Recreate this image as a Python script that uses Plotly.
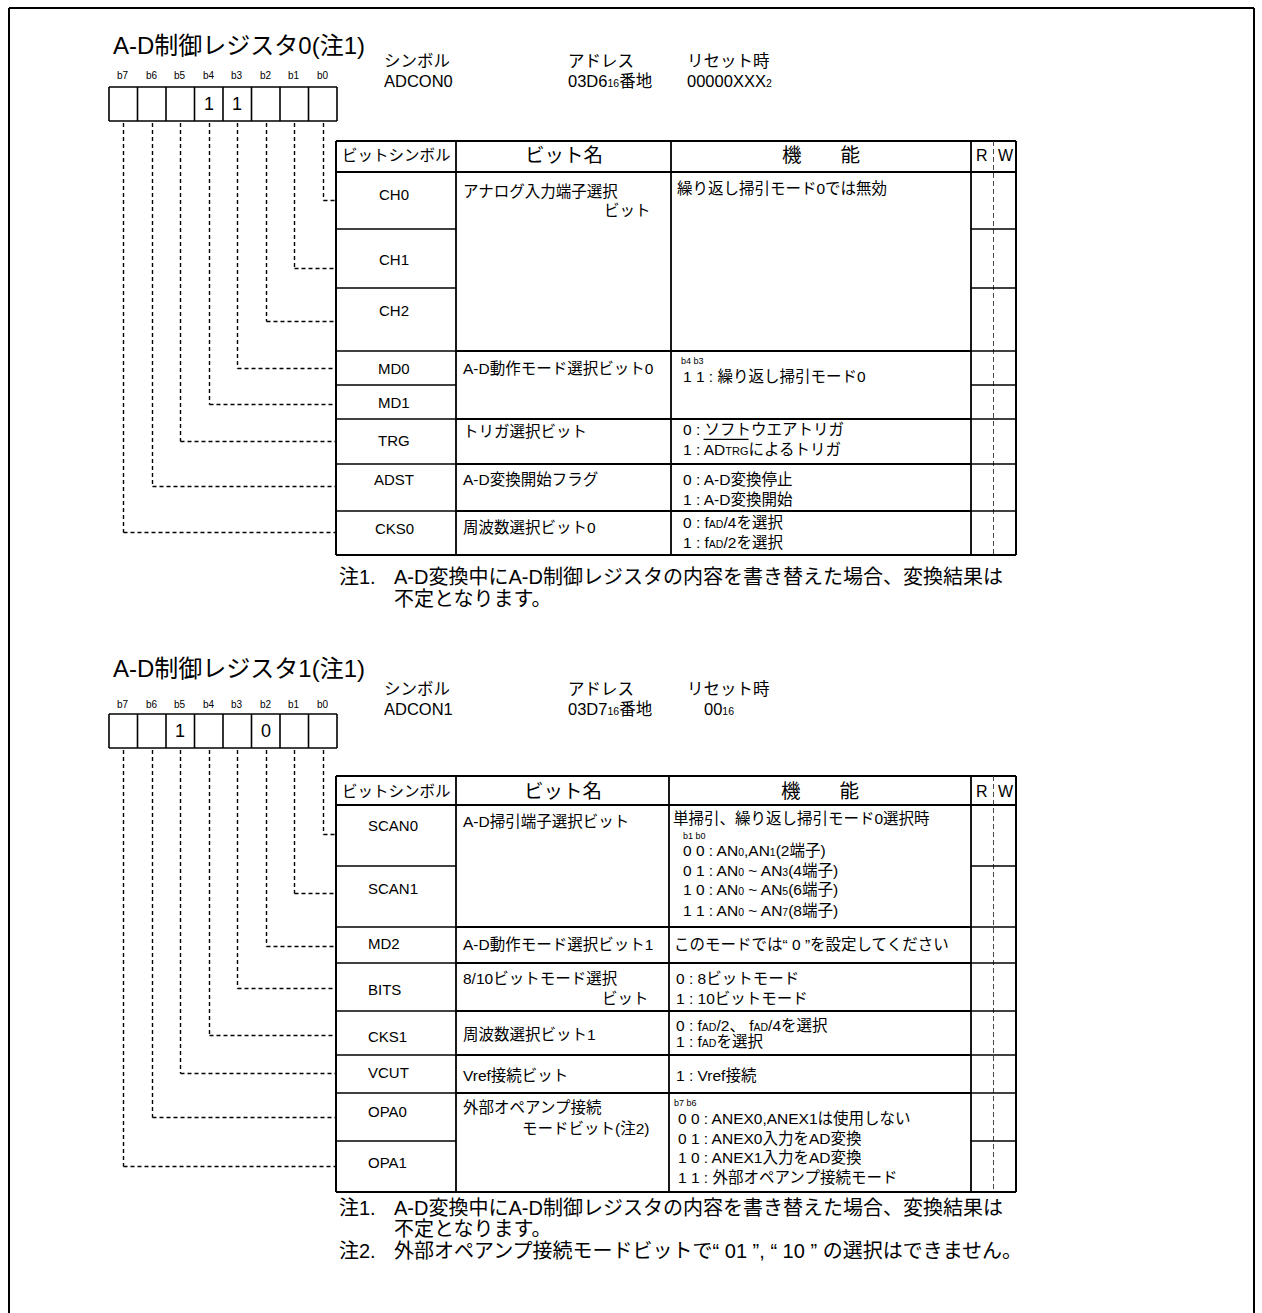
import plotly.graph_objects as go

# ---------------- data ----------------
bit_labels = ["b7", "b6", "b5", "b4", "b3", "b2", "b1", "b0"]
info_headers = ["シンボル", "アドレス", "リセット時"]
table_headers = ["ビットシンボル", "ビット名", "機　　能"]
rw_headers = ["R", "W"]


def SM(s, size=10.5):
    return '<span style="font-size:%spx">%s</span>' % (size, s)


reg0_title = "A-D制御レジスタ0(注1)"
reg0_info = ["ADCON0", "03D6" + SM("16", 10.5) + "番地", "00000XXX" + SM("2", 10.5)]
reg0_bit_values = ["", "", "", "1", "1", "", "", ""]                 # b7 .. b0
reg0_symbols = ["CH0", "CH1", "CH2", "MD0", "MD1", "TRG", "ADST", "CKS0"]  # b0 .. b7
reg0_group_bits = [[0, 1, 2], [3, 4], [5], [6], [7]]
reg0_names = [
    [("アナログ入力端子選択", "left"), ("ビット", "right")],
    [("A-D動作モード選択ビット0", "left")],
    [("トリガ選択ビット", "left")],
    [("A-D変換開始フラグ", "left")],
    [("周波数選択ビット0", "left")],
]
reg0_functions = [
    [("繰り返し掃引モード0では無効", "n")],
    [("b4 b3", "s"), ("1 1 : 繰り返し掃引モード0", "n")],
    [("0 : ソフトウエアトリガ", "n"), ("1 : AD" + SM("TRG", 11) + "によるトリガ", "n")],
    [("0 : A-D変換停止", "n"), ("1 : A-D変換開始", "n")],
    [("0 : f" + SM("AD") + "/4を選択", "n"), ("1 : f" + SM("AD") + "/2を選択", "n")],
]
reg0_notes = [("注1.", "A-D変換中にA-D制御レジスタの内容を書き替えた場合、変換結果は"),
              ("", "不定となります。")]

reg1_title = "A-D制御レジスタ1(注1)"
reg1_info = ["ADCON1", "03D7" + SM("16", 10.5) + "番地", "00" + SM("16", 10.5)]
reg1_bit_values = ["", "", "1", "", "", "0", "", ""]                 # b7 .. b0
reg1_symbols = ["SCAN0", "SCAN1", "MD2", "BITS", "CKS1", "VCUT", "OPA0", "OPA1"]  # b0 .. b7
reg1_group_bits = [[0, 1], [2], [3], [4], [5], [6, 7]]
reg1_names = [
    [("A-D掃引端子選択ビット", "left")],
    [("A-D動作モード選択ビット1", "left")],
    [("8/10ビットモード選択", "left"), ("ビット", "right")],
    [("周波数選択ビット1", "left")],
    [("Vref接続ビット", "left")],
    [("外部オペアンプ接続", "left"), ("モードビット(注2)", "right")],
]
reg1_functions = [
    [("単掃引、繰り返し掃引モード0選択時", "n"), ("b1 b0", "s"),
     ("0 0 : AN" + SM("0") + ",AN" + SM("1") + "(2端子)", "n"),
     ("0 1 : AN" + SM("0") + " ~ AN" + SM("3") + "(4端子)", "n"),
     ("1 0 : AN" + SM("0") + " ~ AN" + SM("5") + "(6端子)", "n"),
     ("1 1 : AN" + SM("0") + " ~ AN" + SM("7") + "(8端子)", "n")],
    [("このモードでは“ 0 ”を設定してください", "n")],
    [("0 : 8ビットモード", "n"), ("1 : 10ビットモード", "n")],
    [("0 : f" + SM("AD") + "/2、 f" + SM("AD") + "/4を選択", "n"), ("1 : f" + SM("AD") + "を選択", "n")],
    [("1 : Vref接続", "n")],
    [("b7 b6", "s"), ("0 0 : ANEX0,ANEX1は使用しない", "n"), ("0 1 : ANEX0入力をAD変換", "n"),
     ("1 0 : ANEX1入力をAD変換", "n"), ("1 1 : 外部オペアンプ接続モード", "n")],
]
reg1_notes = [("注1.", "A-D変換中にA-D制御レジスタの内容を書き替えた場合、変換結果は"),
              ("", "不定となります。"),
              ("注2.", "外部オペアンプ接続モードビットで“ 01 ”, “ 10 ” の選択はできません。")]

# ---------------- layout geometry ----------------
W, H = 1262, 1313
FONT = "Liberation Sans, Noto Sans CJK JP, sans-serif"

geo0 = dict(title_y=45, info_y=(60.5, 81), info_x=(383, 567, 686), info2_x=(383, 567, 686),
            bitlabel_y=75, box=(87, 121), table_top=141, header_y=155,
            row_edges=[172, 229, 288, 351, 385, 419, 464, 511, 555],
            connector_y=[200.5, 268.5, 321.5, 368.5, 404.5, 441.5, 486.5, 532.5],
            symbol_y=[194, 259, 310, 368.7, 402.7, 440.7, 479, 528],
            symbol_align="center", symbol_x=394,
            col_x=[336, 456, 671, 971, 993, 1016],
            name_y=[[191, 210], [368.7], [431.7], [479], [527]],
            func_y=[[188], [360.7, 376.7], [429, 449], [479.3, 499.3], [522.7, 542.7]],
            func_x=[[676], [680, 682], [682, 682], [682, 682], [682, 682]],
            notes_y=[577, 599])

geo1 = dict(title_y=668, info_y=(688.5, 709), info_x=(383, 567, 686), info2_x=(383, 567, 703),
            bitlabel_y=704, box=(714, 748), table_top=776, header_y=791,
            row_edges=[805, 866, 927, 963, 1011, 1055, 1093, 1141, 1192],
            connector_y=[834.5, 893.5, 946.5, 988.5, 1035.5, 1073.5, 1117.5, 1166.5],
            symbol_y=[825.7, 888.7, 943.3, 989, 1036, 1072.7, 1111.7, 1162],
            symbol_align="left", symbol_x=367,
            col_x=[336, 456, 669, 971, 993, 1016],
            name_y=[[821.7], [944], [978.3, 998.3], [1034], [1075], [1107.7, 1128.3]],
            func_y=[[818.3, 836, 850, 870, 889.3, 910], [944.3], [978.3, 998.3], [1025, 1041.7],
                    [1075], [1102.7, 1118.3, 1138.3, 1157.3, 1177]],
            func_x=[[672, 682, 682, 682, 682, 682], [673], [675, 675], [675, 675], [675],
                    [673, 677, 677, 677, 677]],
            notes_y=[1208, 1229, 1251])

BOX_X0, CELL_W = 109, 28.5

shapes = []
annotations = []


def line(x0, y0, x1, y1, width=1.8, dash="solid", color="black"):
    shapes.append(dict(type="line", xref="x", yref="y", x0=x0, y0=y0, x1=x1, y1=y1,
                       line=dict(color=color, width=width, dash=dash)))


def text(x, y, s, size, anchor="left"):
    annotations.append(dict(x=x, y=y, xref="x", yref="y", text=s, showarrow=False,
                            xanchor=anchor, yanchor="middle", borderpad=0,
                            font=dict(size=size, family=FONT, color="black")))


def draw_register(title, info, values, symbols, group_bits, names, functions, notes, g):
    # title and info block
    text(112, g["title_y"], title, 24)
    for i, h in enumerate(info_headers):
        text(g["info_x"][i], g["info_y"][0], h, 16.5)
        text(g["info2_x"][i], g["info_y"][1], info[i], 16.5)
    # bit box
    bt, bb = g["box"]
    for i in range(9):
        line(BOX_X0 + i * CELL_W, bt, BOX_X0 + i * CELL_W, bb, 1.6)
    line(BOX_X0, bt, BOX_X0 + 8 * CELL_W, bt, 1.6)
    line(BOX_X0, bb, BOX_X0 + 8 * CELL_W, bb, 1.6)
    for i, lab in enumerate(bit_labels):
        cx = BOX_X0 + (i + 0.5) * CELL_W
        text(cx, g["bitlabel_y"], lab, 10, "center")
        if values[i]:
            text(cx, (bt + bb) / 2, values[i], 18, "center")
    # connectors (bit k -> row k)
    cx0 = g["col_x"][0]
    for k in range(8):
        cx = round(BOX_X0 + (7 - k + 0.5) * CELL_W) + 0.5
        cy = g["connector_y"][k]
        line(cx, bb + 2, cx, cy, 1.4, "4px,3px")
        line(cx, cy, cx0, cy, 1.4, "4px,3px")
    # table
    c = g["col_x"]
    edges = g["row_edges"]
    top, hb, bot = g["table_top"], edges[0], edges[-1]
    line(c[0], top, c[5], top, 2)
    line(c[0], hb, c[5], hb, 1.8)
    line(c[0], bot, c[5], bot, 2)
    for xi in (0, 1, 2, 3, 5):
        line(c[xi], top, c[xi], bot, 2 if xi in (0, 5) else 1.8)
    line(c[4] + 0.5, top, c[4] + 0.5, bot, 0.9, "5px,3px", "#333")
    # per-bit row lines in symbol and R/W columns
    for e in edges[1:-1]:
        line(c[0], e, c[1], e, 1.6)
        line(c[3], e, c[5], e, 1.6)
    # group lines across name/function columns
    for gb in group_bits[:-1]:
        e = edges[gb[-1] + 1]
        line(c[1], e, c[3], e, 1.8)
    # headers
    text((c[0] + c[1]) / 2, g["header_y"], table_headers[0], 15.5, "center")
    text((c[1] + c[2]) / 2, g["header_y"], table_headers[1], 19.5, "center")
    text((c[2] + c[3]) / 2, g["header_y"], table_headers[2], 19.5, "center")
    text((c[3] + c[4]) / 2, g["header_y"], rw_headers[0], 16, "center")
    text((c[4] + c[5]) / 2 + 1, g["header_y"], rw_headers[1], 16, "center")
    # symbols
    for k, s in enumerate(symbols):
        if g["symbol_align"] == "center":
            text(g["symbol_x"], g["symbol_y"][k], s, 15, "center")
        else:
            text(g["symbol_x"], g["symbol_y"][k], s, 15, "left")
    # names and functions
    for gi in range(len(group_bits)):
        for li, (s, al) in enumerate(names[gi]):
            x = c[1] + 6 if al == "left" else c[2] - 19
            text(x, g["name_y"][gi][li], s, 15.5, al)
        for li, (s, kind) in enumerate(functions[gi]):
            size = 9 if kind == "s" else 15.5
            text(g["func_x"][gi][li], g["func_y"][gi][li], s, size, "left")
    # notes
    for ni, (lab, body) in enumerate(notes):
        if lab:
            text(338, g["notes_y"][ni], lab, 20)
        text(393, g["notes_y"][ni], body, 20)


draw_register(reg0_title, reg0_info, reg0_bit_values, reg0_symbols, reg0_group_bits,
              reg0_names, reg0_functions, reg0_notes, geo0)
draw_register(reg1_title, reg1_info, reg1_bit_values, reg1_symbols, reg1_group_bits,
              reg1_names, reg1_functions, reg1_notes, geo1)

# overline of ADTRG
line(703.5, 439.3, 748.5, 439.3, 1.2)

# outer frame
line(9, 8, 1254, 8, 2)
line(9, 8, 9, H, 2)
line(1254, 8, 1254, H, 2)

fig = go.Figure(go.Scatter(x=[0], y=[0], mode="markers", marker=dict(opacity=0),
                           hoverinfo="skip", showlegend=False))
fig.update_layout(
    width=W, height=H, margin=dict(l=0, r=0, t=0, b=0),
    paper_bgcolor="white", plot_bgcolor="white",
    xaxis=dict(range=[0, W], visible=False, fixedrange=True),
    yaxis=dict(range=[H, 0], visible=False, fixedrange=True),
    shapes=shapes, annotations=annotations, showlegend=False,
)
fig.write_html("out.html", config={"displayModeBar": False},
               post_script="document.body.style.margin='0';document.body.style.overflow='hidden';")
